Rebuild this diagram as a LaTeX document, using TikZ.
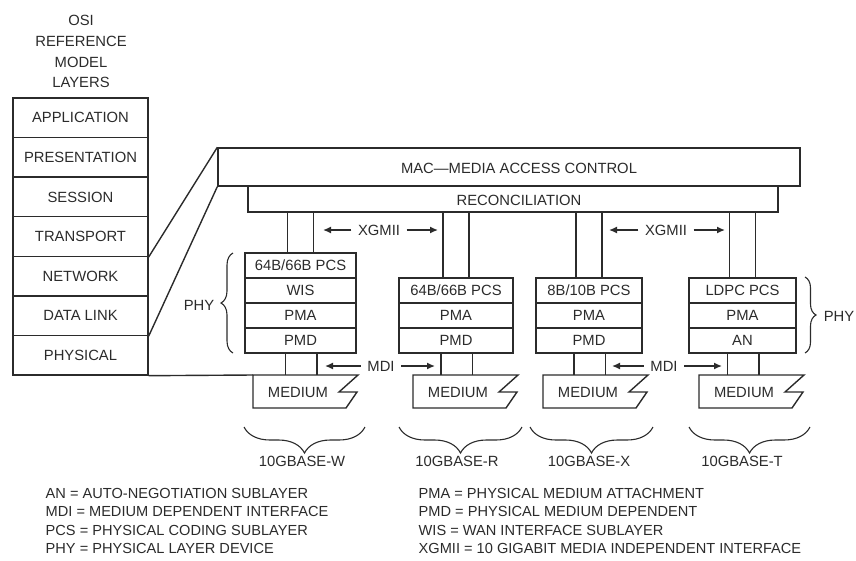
\documentclass[tikz,border=0pt]{standalone}
\usepackage{fontspec}
\setmainfont{Liberation Sans}
\usetikzlibrary{arrows.meta,decorations.pathreplacing}
\definecolor{ink}{HTML}{2B2B2B}
\begin{document}
\begin{tikzpicture}[x=1pt,y=-1pt,
  line width=1.4pt, draw=ink,
  every node/.style={text=ink, font=\fontsize{14.8}{16}\selectfont, inner sep=0pt},
  lay/.style={draw=ink, rectangle, line width=1.4pt, minimum width=135, minimum height=39.57},
  sub/.style={draw=ink, rectangle, line width=1.4pt, minimum width=#1, minimum height=25},
  leg/.style={anchor=west, font=\fontsize{14.6}{16}\selectfont},
  arr/.style={-{Latex[length=8pt,width=7pt]}, line width=1.4pt},
  brc/.style={decorate, decoration={brace, amplitude=#1}, line width=1.1pt},
]
\useasboundingbox (0,0) rectangle (856,560);

% OSI title
\node (t1) at (81,20) {OSI};
\node (t2) at (81,41) {REFERENCE};
\node (t3) at (81,62) {MODEL};
\node (t4) at (81,82) {LAYERS};

% OSI stack
\node[lay] (app)   at (80.5,117.8) {APPLICATION};
\node[lay] (pres)  at (80.5,157.4) {PRESENTATION};
\node[lay] (sess)  at (80.5,196.9) {SESSION};
\node[lay] (trans) at (80.5,236.5) {TRANSPORT};
\node[lay] (net)   at (80.5,276.1) {NETWORK};
\node[lay] (dl)    at (80.5,315.6) {DATA LINK};
\node[lay] (phys)  at (80.5,355.2) {PHYSICAL};

% MAC and reconciliation
\node[draw=ink, rectangle, line width=1.4pt, minimum width=582, minimum height=38] (mac) at (509,167) {};
\node (mact) at (519,168) {MAC---MEDIA ACCESS CONTROL};
\node[draw=ink, rectangle, line width=1.4pt, minimum width=530, minimum height=26] (rec) at (513,199) {};
\node (rect) at (519,200) {RECONCILIATION};

\draw (trans.south east) -- (mac.north west);
\draw (dl.south east) -- (mac.south west);

% Stacks
\node[sub=111] (s1a) at (300.5,265.5) {64B/66B PCS};
\node[sub=111] (s1b) at (300.5,290.5) {WIS};
\node[sub=111] (s1c) at (300.5,315.5) {PMA};
\node[sub=111] (s1d) at (300.5,340.5) {PMD};

\node[sub=114] (s2a) at (456,290.5) {64B/66B PCS};
\node[sub=114] (s2b) at (456,315.5) {PMA};
\node[sub=114] (s2c) at (456,340.5) {PMD};

\node[sub=106] (s3a) at (589,290.5) {8B/10B PCS};
\node[sub=106] (s3b) at (589,315.5) {PMA};
\node[sub=106] (s3c) at (589,340.5) {PMD};

\node[sub=107] (s4a) at (742.5,290.5) {LDPC PCS};
\node[sub=107] (s4b) at (742.5,315.5) {PMA};
\node[sub=107] (s4c) at (742.5,340.5) {AN};

% XGMII links
\foreach \s in {s1a,s2a,s3a,s4a}{
  \draw ([xshift=-13pt]\s.north) -- ([xshift=-13pt]\s.north |- rec.south);
  \draw ([xshift=13pt]\s.north) -- ([xshift=13pt]\s.north |- rec.south);
}

\node (xg1) at (379,230) {XGMII};
\coordinate (xg1l) at (323,230);
\coordinate (xg1r) at (438,230);
\draw[arr] ([xshift=-6pt]xg1.west) -- (xg1l);
\draw[arr] ([xshift=6pt]xg1.east) -- (xg1r);

\node (xg2) at (666,230) {XGMII};
\coordinate (xg2l) at (609,230);
\coordinate (xg2r) at (725,230);
\draw[arr] ([xshift=-6pt]xg2.west) -- (xg2l);
\draw[arr] ([xshift=6pt]xg2.east) -- (xg2r);

% Media
\newcommand\medshape[1]{%
  \draw (#1,375) -- (#1+105,375) -- (#1+86,392) -- (#1+104,392) -- (#1+93,408) -- (#1,408) -- cycle;}
\medshape{253}
\medshape{413}
\medshape{543}
\medshape{699}
\coordinate (m1t) at (253,375);
\coordinate (m2t) at (413,375);
\coordinate (m3t) at (543,375);
\coordinate (m4t) at (699,375);
\node (m1) at (298,392) {MEDIUM};
\node (m2) at (458,392) {MEDIUM};
\node (m3) at (588,392) {MEDIUM};
\node (m4) at (744,392) {MEDIUM};

\draw (phys.south east) -- (m1t);

\foreach \s/\m in {s1d/m1t,s2c/m2t,s3c/m3t,s4c/m4t}{
  \draw ([xshift=-15pt]\s.south) -- ([xshift=-15pt]\s.south |- \m);
  \draw ([xshift=16.5pt]\s.south) -- ([xshift=16.5pt]\s.south |- \m);
}

% MDI
\node (md1) at (381,366) {MDI};
\coordinate (md1l) at (325,366);
\coordinate (md1r) at (435,366);
\draw[arr] ([xshift=-6pt]md1.west) -- (md1l);
\draw[arr] ([xshift=6pt]md1.east) -- (md1r);

\node (md2) at (664,366) {MDI};
\coordinate (md2l) at (612,366);
\coordinate (md2r) at (722,366);
\draw[arr] ([xshift=-6pt]md2.west) -- (md2l);
\draw[arr] ([xshift=6pt]md2.east) -- (md2r);

% PHY braces
\draw[brc=12pt] (233,353) -- (233,253);
\node (phyl) at (199,305) {PHY};
\draw[brc=11pt] (805,277) -- (805,353);
\node (phyr) at (839,316) {PHY};

% bottom braces
\draw[brc=26pt] (365,427) -- (244,427);
\draw[brc=26pt] (522,427) -- (399,427);
\draw[brc=26pt] (653,427) -- (530,427);
\draw[brc=26pt] (810,427) -- (689,427);

\node (b1) at (302,461) {10GBASE-W};
\node (b2) at (457,461) {10GBASE-R};
\node (b3) at (589,461) {10GBASE-X};
\node (b4) at (742,461) {10GBASE-T};

% legend
\node[leg] (l1) at (45,493) {AN = AUTO-NEGOTIATION SUBLAYER};
\node[leg] (l2) at (45,511) {MDI = MEDIUM DEPENDENT INTERFACE};
\node[leg] (l3) at (45,530) {PCS = PHYSICAL CODING SUBLAYER};
\node[leg] (l4) at (45,548) {PHY = PHYSICAL LAYER DEVICE};
\node[leg] (r1) at (418,493) {PMA = PHYSICAL MEDIUM ATTACHMENT};
\node[leg] (r2) at (418,511) {PMD = PHYSICAL MEDIUM DEPENDENT};
\node[leg] (r3) at (418,530) {WIS = WAN INTERFACE SUBLAYER};
\node[leg] (r4) at (418,548) {XGMII = 10 GIGABIT MEDIA INDEPENDENT INTERFACE};
\end{tikzpicture}
\end{document}
